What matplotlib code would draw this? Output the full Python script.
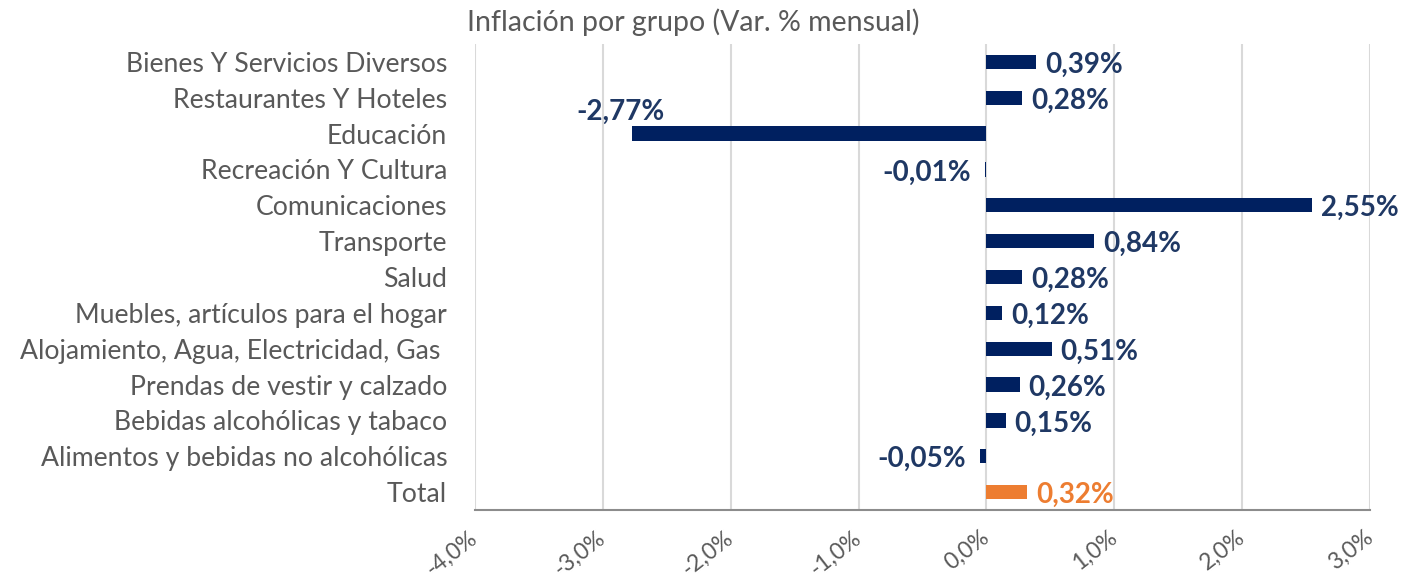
import matplotlib
matplotlib.use('Agg')
import matplotlib.pyplot as plt

# datos (de abajo hacia arriba)
grupos = ["Total",
          "Alimentos y bebidas no alcohólicas",
          "Bebidas alcohólicas y tabaco",
          "Prendas de vestir y calzado",
          "Alojamiento, Agua, Electricidad, Gas ",
          "Muebles, artículos para el hogar",
          "Salud",
          "Transporte",
          "Comunicaciones",
          "Recreación Y Cultura",
          "Educación",
          "Restaurantes Y Hoteles",
          "Bienes Y Servicios Diversos"]
var_mensual = [0.32, -0.05, 0.15, 0.26, 0.51, 0.12, 0.28, 0.84, 2.55, -0.01, -2.77, 0.28, 0.39]
ticks_x = [-4, -3, -2, -1, 0, 1, 2, 3]
ticks_lbl = ["-4,0%", "-3,0%", "-2,0%", "-1,0%", "0,0%", "1,0%", "2,0%", "3,0%"]

azul = "#002060"
azul_txt = "#1F3864"
naranja = "#ED7D31"
gris = "#595959"

plt.rcParams['font.family'] = ['Lato', 'DejaVu Sans']

fig = plt.figure(figsize=(14.2, 5.78), dpi=100)
ax = fig.add_axes([475/1420, 1 - 510/578, 895/1420, 466/578])

y = list(range(len(grupos)))
colores = [naranja] + [azul] * (len(grupos) - 1)
ax.barh(y, var_mensual, height=0.4, color=colores, zorder=3)

for i, v in enumerate(var_mensual):
    txt = f"{v:.2f}%".replace(".", ",")
    c = naranja if i == 0 else azul_txt
    if grupos[i] == "Educación":
        ax.annotate(txt, (v, i), xytext=(-12, 22), textcoords='offset pixels',
                    ha='center', va='center', fontsize=20, fontweight='bold', color=c)
    elif v < 0:
        ax.annotate(txt, (v, i), xytext=(-14, -3), textcoords='offset pixels',
                    ha='right', va='center', fontsize=20, fontweight='bold', color=c)
    else:
        ax.annotate(txt, (v, i), xytext=(9, -3), textcoords='offset pixels',
                    ha='left', va='center', fontsize=20, fontweight='bold', color=c)

ax.set_xlim(-4, 3)
ax.set_ylim(-0.5, 12.5)
ax.set_xticks(ticks_x)
ax.set_xticklabels(ticks_lbl, rotation=38, ha='right', va='center',
                   rotation_mode='anchor', fontsize=16.5, color=gris)
ax.set_yticks(y)
ax.set_yticklabels(grupos, fontsize=19.2, color=gris)
ax.tick_params(axis='both', length=0)
ax.tick_params(axis='x', pad=18)
ax.tick_params(axis='y', pad=20)
ax.grid(axis='x', color='#D9D9D9', linewidth=1.5, zorder=0)
for s in ['top', 'right', 'left']:
    ax.spines[s].set_visible(False)
ax.spines['bottom'].set_color('#8C8C8C')
ax.spines['bottom'].set_linewidth(1.5)

fig.text(693/1420, 1 - 22/578, "Inflación por grupo (Var. % mensual)",
         ha='center', va='center', fontsize=20.5, color=gris)

fig.savefig("out.png", dpi=100)
